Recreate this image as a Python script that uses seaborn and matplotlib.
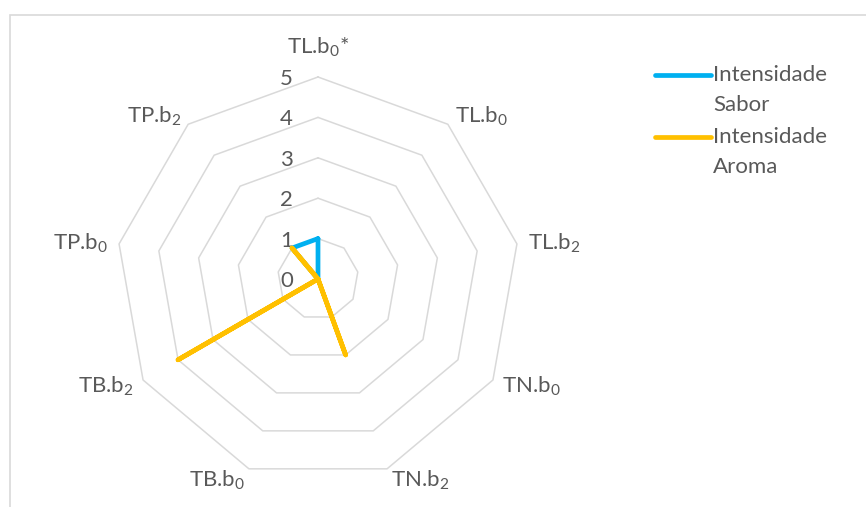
import numpy as np
import pandas as pd
import matplotlib
matplotlib.use("Agg")
import matplotlib.pyplot as plt
from matplotlib.lines import Line2D
from matplotlib.patches import Rectangle
import seaborn as sns

# Sensory attribute categories around the radar
categories = ["TL.b$_0$*", "TL.b$_0$", "TL.b$_2$", "TN.b$_0$", "TN.b$_2$",
              "TB.b$_0$", "TB.b$_2$", "TP.b$_0$", "TP.b$_2$"]
sabor = [1, 0, 0, 0, 0, 0, 0, 0, 1]
aroma = [0, 0, 0, 0, 2, 0, 4, 0, 1]
series_names = ["Intensidade\nSabor", "Intensidade\nAroma"]
ring_levels = [0, 1, 2, 3, 4, 5]

sns.set_theme(style="white")
plt.rcParams["font.family"] = ["Lato", "DejaVu Sans"]
plt.rcParams["mathtext.default"] = "regular"

TEXT = "#595959"
GRID = "#D9D9D9"
colors = ["#00B0F0", "#FFC000"]
FS = 16

n = len(categories)
theta = np.arange(n) * 2 * np.pi / n

df = pd.DataFrame({"categoria": categories, "theta": theta,
                   series_names[0]: sabor, series_names[1]: aroma})

fig = plt.figure(figsize=(8.66, 5.07), dpi=100)
fig.patch.set_facecolor("white")

# chart-area frame
fig.add_artist(Rectangle((10 / 866, -0.05), 1.2, 1 - 15 / 507 + 0.05,
                         transform=fig.transFigure, fill=False,
                         edgecolor=GRID, linewidth=1.2))

cx, cy, R = 318, 279, 202
ax = fig.add_axes([(cx - R) / 866, (507 - cy - R) / 507, 2 * R / 866, 2 * R / 507],
                  projection="polar")
ax.set_theta_zero_location("N")
ax.set_theta_direction(-1)
ax.set_ylim(0, 5)
ax.grid(False)
ax.set_xticks([])
ax.set_yticks([])
ax.spines["polar"].set_visible(False)
ax.set_facecolor("none")

# polygon rings
closed_theta = np.append(theta, theta[0])
for lvl in ring_levels[1:]:
    ax.plot(closed_theta, [lvl] * (n + 1), color=GRID, lw=1.1, zorder=1,
            clip_on=False)

# radial value labels
for lvl in ring_levels:
    ax.annotate(str(lvl), xy=(0, lvl), xytext=(-25, -2), textcoords="offset pixels",
                ha="right", va="center", fontsize=FS, color=TEXT)

# category labels
for t, lab in zip(theta, categories):
    s, c = np.sin(t), np.cos(t)
    if c > 0.95:
        ax.annotate(lab, xy=(t, 5), xytext=(0, 30), textcoords="offset pixels",
                    ha="center", va="center", fontsize=FS, color=TEXT,
                    annotation_clip=False)
        continue
    ha = "left" if s > 0.05 else "right"
    off = (11 * s, 11 * c - 1)
    ax.annotate(lab, xy=(t, 5), xytext=off, textcoords="offset pixels",
                ha=ha, va="center", fontsize=FS, color=TEXT,
                annotation_clip=False)

# data series
for name, col in zip(series_names, colors):
    vals = np.append(df[name].values, df[name].values[0])
    ax.plot(closed_theta, vals, color=col, lw=3.4, solid_joinstyle="round",
            solid_capstyle="round", zorder=3, clip_on=False)

# legend
for i, (name, col) in enumerate(zip(series_names, colors)):
    y = 1 - (75 + 62 * i) / 507
    fig.add_artist(Line2D([655 / 866, 711 / 866], [y, y], transform=fig.transFigure,
                          color=col, lw=3.4, solid_capstyle="round"))
    first, second = name.split("\n")
    fig.text(713 / 866, y, first, ha="left", va="center", fontsize=FS, color=TEXT)
    fig.text(713 / 866, y - 30 / 507, second, ha="left", va="center", fontsize=FS,
             color=TEXT)

fig.savefig("out.png", dpi=100, facecolor="white")
